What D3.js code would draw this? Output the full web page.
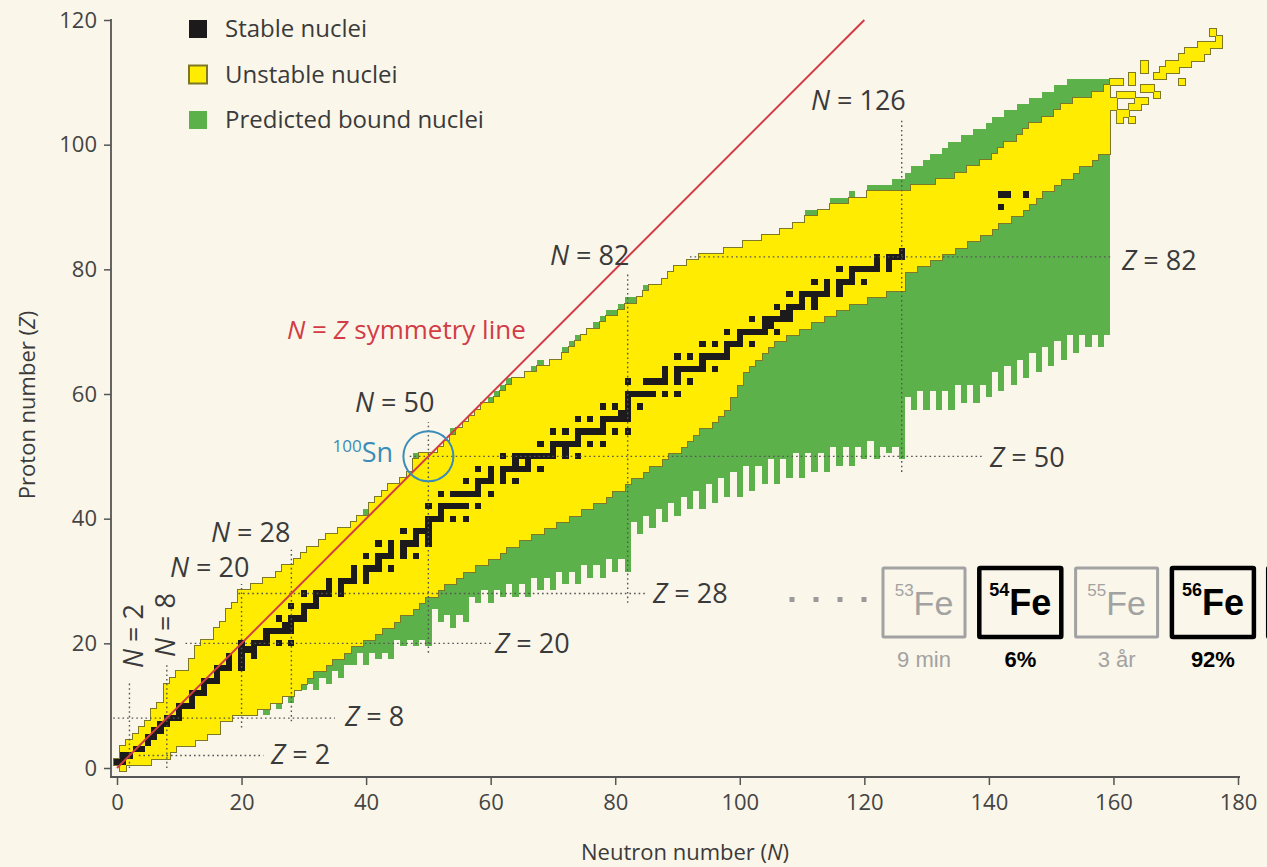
<!DOCTYPE html>
<html>
<head>
<meta charset="utf-8">
<script src="https://cdn.jsdelivr.net/npm/d3@7"></script>
<style>
  body { margin: 0; background: #faf6ea; }
  svg { display: block; font-family: "Open Sans", "Noto Sans", sans-serif; }
</style>
</head>
<body>
<svg id="chart" width="1267" height="867"></svg>
<script>
// ---- data (index of each column array = neutron number N) ----
const xTicks = [0, 20, 40, 60, 80, 100, 120, 140, 160, 180];
const yTicks = [0, 20, 40, 60, 80, 100, 120];

// known (unstable) nuclei: lowest / highest Z per N
const yellowLo = [
  1,0,1,1,1,1,2,2,2,3, 4,4,4,5,5,6,6,8,8,9,
  9,9,9,10,10,11,11,12,12,13, 14,15,16,16,17,18,18,19,20,20,
  21,21,22,23,23,24,25,25,26,27, 28,28,29,30,30,31,32,32,33,33,
  34,34,35,36,36,37,37,38,38,39, 39,40,40,41,41,42,42,43,43,44,
  45,45,46,47,47,48,49,49,50,51, 51,52,53,54,55,55,56,57,58,60,
  62,64,65,66,67,68,69,69,70,70, 71,71,72,72,73,73,74,74,75,75,
  75,76,76,76,77,77,77,80,80,81, 81,82,82,83,83,84,84,85,85,86,
  86,87,88,88,89,89,90,91,92,93, 93,94,95,95,96,97,97,98,99,99
];
const yellowHi = [
  1,3,4,5,6,7,9,10,13,14, 15,15,17,19,20,20,22,23,25,26,
  28,28,29,29,30,30,31,32,32,33, 34,35,35,36,37,37,38,38,39,40,
  40,42,43,44,45,45,46,47,49,50, 50,50,51,52,53,54,55,56,57,58,
  58,59,60,61,62,62,63,63,64,64, 65,65,66,67,68,69,70,70,71,72,
  72,73,74,74,75,76,77,77,78,79, 80,80,81,81,82,82,82,82,83,83,
  83,84,84,84,85,85,85,86,86,87, 87,88,88,89,89,90,90,90,91,91,
  91,92,92,92,92,92,92,92,93,93, 93,93,94,94,94,95,95,96,96,97,
  97,98,99,100,100,101,102,103,103,104, 104,105,106,106,107,107,107,108,108,108
];
// predicted bound nuclei: lowest / highest Z per N
const greenLo = [
  1,0,1,1,1,1,2,2,2,3, 4,4,4,5,5,6,6,8,8,9,
  9,9,9,10,9,11,10,12,11,13, 13,14,13,15,14,16,15,17,17,19,
  17,19,18,19,18,21,20,21,20,21, 20,26,24,25,23,25,24,28,27,29,
  27,29,28,30,28,30,28,31,29,31, 29,32,30,32,30,33,31,33,31,34,
  32,34,32,40,38,41,39,42,40,43, 41,44,42,45,42,46,43,47,44,48,
  44,49,45,49,46,50,46,50,47,51, 47,51,48,51,48,52,49,52,49,52,
  50,53,50,52,51,52,50,60,58,61, 58,61,58,61,58,62,59,62,59,62,
  60,64,61,65,62,66,63,67,64,68, 65,69,66,70,67,70,68,70,68,70
];
const greenHi = [
  1,3,4,5,6,7,9,10,13,14, 15,15,17,19,20,20,22,23,25,26,
  28,28,29,29,30,30,31,32,32,33, 34,35,35,36,37,37,38,38,39,40,
  41,42,43,44,45,45,46,47,50,50, 50,50,51,52,54,54,55,56,57,58,
  59,60,61,62,62,62,63,64,65,64, 65,65,67,68,69,69,70,71,72,73,
  73,74,75,75,75,77,77,77,78,79, 80,80,81,81,82,82,82,82,83,83,
  83,84,84,84,85,85,85,86,86,87, 87,89,89,89,89,91,91,91,92,91,
  91,93,93,93,93,94,94,95,96,96, 97,98,98,99,100,100,101,101,102,102,
  103,104,104,105,105,106,106,107,107,108, 108,109,109,110,110,110,110,110,110,110
];
// isolated superheavy known nuclei [N, Z]
const superheavy = [
  [161,104],[163,104],[161,105],[162,105],[160,106],[163,106],[164,106],
  [160,107],[164,107],[165,107],[161,108],[162,108],[163,108],[167,108],
  [159,109],[165,109],[166,109],[160,110],[161,110],[163,110],[171,110],
  [163,111],[167,111],[168,111],[165,112],[168,112],[169,112],[170,112],
  [165,113],[169,113],[170,113],[171,113],[172,113],
  [171,114],[172,114],[173,114],[174,114],
  [172,115],[173,115],[174,115],[175,115],
  [174,116],[175,116],[176,116],[177,116],[177,117],[176,118]
];
// stable nuclei: [Z, mass numbers]
const stableMassByZ = [
  [1,[1,2]],[2,[3,4]],[3,[6,7]],[4,[9]],[5,[10,11]],[6,[12,13]],[7,[14,15]],[8,[16,17,18]],[9,[19]],[10,[20,21,22]],
  [11,[23]],[12,[24,25,26]],[13,[27]],[14,[28,29,30]],[15,[31]],[16,[32,33,34,36]],[17,[35,37]],[18,[36,38,40]],[19,[39,40,41]],[20,[40,42,43,44,46,48]],
  [21,[45]],[22,[46,47,48,49,50]],[23,[50,51]],[24,[50,52,53,54]],[25,[55]],[26,[54,56,57,58]],[27,[59]],[28,[58,60,61,62,64]],[29,[63,65]],[30,[64,66,67,68,70]],
  [31,[69,71]],[32,[70,72,73,74,76]],[33,[75]],[34,[74,76,77,78,80,82]],[35,[79,81]],[36,[78,80,82,83,84,86]],[37,[85,87]],[38,[84,86,87,88]],[39,[89]],[40,[90,91,92,94,96]],
  [41,[93]],[42,[92,94,95,96,97,98,100]],[44,[96,98,99,100,101,102,104]],[45,[103]],[46,[102,104,105,106,108,110]],[47,[107,109]],[48,[106,108,110,111,112,113,114,116]],[49,[113,115]],[50,[112,114,115,116,117,118,119,120,122,124]],
  [51,[121,123]],[52,[120,122,123,124,125,126,128,130]],[53,[127]],[54,[124,126,128,129,130,131,132,134,136]],[55,[133]],[56,[130,132,134,135,136,137,138]],[57,[138,139]],[58,[136,138,140,142]],[59,[141]],[60,[142,143,144,145,146,148,150]],
  [62,[144,147,148,149,150,152,154]],[63,[151,153]],[64,[152,154,155,156,157,158,160]],[65,[159]],[66,[156,158,160,161,162,163,164]],[67,[165]],[68,[162,164,166,167,168,170]],[69,[169]],[70,[168,170,171,172,173,174,176]],
  [71,[175,176]],[72,[174,176,177,178,179,180]],[73,[180,181]],[74,[180,182,183,184,186]],[75,[185,187]],[76,[184,186,187,188,189,190,192]],[77,[191,193]],[78,[190,192,194,195,196,198]],[79,[197]],[80,[196,198,199,200,201,202,204]],
  [81,[203,205]],[82,[204,206,207,208]],[83,[209]],[90,[232]],[92,[234,235,238]]
];
const magicN = [2, 8, 20, 28, 50, 82, 126];
const magicZ = [2, 8, 20, 28, 50, 82];
const legendLabels = ['Stable nuclei', 'Unstable nuclei', 'Predicted bound nuclei'];
const feMass = ['53', '54', '55', '56', ''];   // last box is cut by the frame
const feNote = ['9 min', '6%', '3 år', '92%', ''];
const feStable = [false, true, false, true, true];

// ---- layout ----
const C = {
  ink: '#3a3a3a', yellow: '#ffec00', green: '#5db14b', edge: '#7c7826',
  stable: '#1c1a1a', red: '#d23c46', teal: '#3b8db8', grey: '#a2a2a2'
};
const svg = d3.select('#chart');
const x = d3.scaleLinear().domain([0, 180]).range([117, 1238]);
const y = d3.scaleLinear().domain([0, 120]).range([768, 20]);

// rounded cell geometry so neighbouring columns meet exactly
function cellRect(sel) {
  sel.attr('x', d => Math.round(x(d.n - 0.5)))
    .attr('width', d => Math.round(x(d.n + 0.5)) - Math.round(x(d.n - 0.5)))
    .attr('y', d => Math.round(y(d.hi + 0.5)))
    .attr('height', d => Math.round(y(d.lo - 0.5)) - Math.round(y(d.hi + 0.5)));
}

const cols = d3.range(yellowLo.length);
const greenCols = cols.map(n => ({n, lo: greenLo[n], hi: greenHi[n]}));
const yellowCells = cols.map(n => ({n, lo: yellowLo[n], hi: yellowHi[n]}))
  .concat(superheavy.map(([n, z]) => ({n, lo: z, hi: z})));
const stableCells = [];
stableMassByZ.forEach(([z, masses]) => masses.forEach(a => stableCells.push({n: a - z, lo: z, hi: z})));

svg.append('g').attr('shape-rendering', 'crispEdges')
  .selectAll('rect').data(greenCols).join('rect').call(cellRect).attr('fill', C.green);
// outline of the known region, then the fill on top of it
svg.append('g').attr('shape-rendering', 'crispEdges')
  .selectAll('rect').data(yellowCells).join('rect').call(cellRect)
  .attr('fill', 'none').attr('stroke', C.edge).attr('stroke-width', 2);
svg.append('g').attr('shape-rendering', 'crispEdges')
  .selectAll('rect').data(yellowCells).join('rect').call(cellRect).attr('fill', C.yellow);
svg.append('g').attr('shape-rendering', 'crispEdges')
  .selectAll('rect').data(stableCells).join('rect').call(cellRect).attr('fill', C.stable);

// magic number guide lines (extent in N / Z units)
const nExtent = {2: [0, 14], 8: [0, 16.5], 20: [6.5, 29.5], 28: [7.5, 35], 50: [18.5, 55.5], 82: [26.5, 79.5], 126: [47.5, 104]};
const zExtent = {2: [3.5, 23.5], 8: [-0.6, 35], 20: [11, 60], 28: [19.5, 85], 50: [47, 139], 82: [92, 159.5]};
const guides = svg.append('g').attr('stroke', '#555').attr('stroke-width', 1.4).attr('stroke-dasharray', '1.6,3');
magicN.forEach(n => guides.append('line')
  .attr('x1', x(n)).attr('x2', x(n)).attr('y1', y(nExtent[n][0])).attr('y2', y(nExtent[n][1])));
magicZ.forEach(z => guides.append('line')
  .attr('y1', y(z)).attr('y2', y(z)).attr('x1', x(zExtent[z][0])).attr('x2', x(zExtent[z][1])));

// N = Z line
svg.append('line').attr('x1', x(0)).attr('y1', y(0)).attr('x2', x(120)).attr('y2', y(120))
  .attr('stroke', C.red).attr('stroke-width', 2);

// 100Sn circle
svg.append('circle').attr('cx', x(50)).attr('cy', y(50)).attr('r', 25)
  .attr('fill', 'none').attr('stroke', C.teal).attr('stroke-width', 2);
const sn = svg.append('text').attr('x', 393).attr('y', 462).attr('text-anchor', 'end')
  .attr('fill', C.teal).attr('font-size', 27);
sn.append('tspan').attr('font-size', 17).attr('dy', -10).text('100');
sn.append('tspan').attr('dy', 10).text('Sn');

// magic labels
function magicLabel(letter, val, px, py, rot) {
  const t = svg.append('text').attr('fill', C.ink).attr('font-size', 27);
  if (rot) t.attr('transform', `translate(${px},${py}) rotate(-90)`).attr('text-anchor', 'middle');
  else t.attr('x', px).attr('y', py);
  t.append('tspan').attr('font-style', 'italic').text(letter);
  t.append('tspan').text(' = ' + val);
}
const nLabelPos = {2: [143, 636, true], 8: [175, 625, true], 20: [170, 577], 28: [211, 542], 50: [355, 412], 82: [550, 265], 126: [811, 110]};
const zLabelPos = {2: [271, 764], 8: [345, 726], 20: [495, 653], 28: [653, 603], 50: [990, 467], 82: [1122, 270]};
magicN.forEach(n => magicLabel('N', n, ...nLabelPos[n]));
magicZ.forEach(z => magicLabel('Z', z, ...zLabelPos[z]));

const sym = svg.append('text').attr('x', 287).attr('y', 339).attr('fill', C.red).attr('font-size', 26);
sym.append('tspan').attr('font-style', 'italic').text('N');
sym.append('tspan').text(' = ');
sym.append('tspan').attr('font-style', 'italic').text('Z');
sym.append('tspan').text(' symmetry line');

// axes
const gx = svg.append('g').attr('transform', 'translate(0,777)')
  .call(d3.axisBottom(x).tickValues(xTicks).tickSize(8).tickPadding(9).tickSizeOuter(0));
const gy = svg.append('g').attr('transform', 'translate(111,0)')
  .call(d3.axisLeft(y).tickValues(yTicks).tickSize(7).tickPadding(7).tickSizeOuter(0));
[gx, gy].forEach(g => {
  g.select('.domain').remove();
  g.selectAll('.tick line').attr('stroke', '#555').attr('stroke-width', 1.5);
  g.selectAll('.tick text').attr('fill', '#444').attr('font-size', 22)
    .attr('font-family', '"Open Sans", sans-serif');
});
svg.append('line').attr('x1', 110).attr('x2', 1240).attr('y1', 777).attr('y2', 777)
  .attr('stroke', '#555').attr('stroke-width', 1.8);
svg.append('line').attr('x1', 111).attr('x2', 111).attr('y1', 19).attr('y2', 777)
  .attr('stroke', '#555').attr('stroke-width', 1.8);

const xt = svg.append('text').attr('x', 685).attr('y', 860).attr('text-anchor', 'middle')
  .attr('fill', C.ink).attr('font-size', 22);
xt.append('tspan').text('Neutron number (');
xt.append('tspan').attr('font-style', 'italic').text('N');
xt.append('tspan').text(')');
const yt = svg.append('text').attr('transform', 'translate(35,405) rotate(-90)').attr('text-anchor', 'middle')
  .attr('fill', C.ink).attr('font-size', 22);
yt.append('tspan').text('Proton number (');
yt.append('tspan').attr('font-style', 'italic').text('Z');
yt.append('tspan').text(')');

// legend
const legFill = [C.stable, C.yellow, C.green];
const leg = svg.append('g');
legendLabels.forEach((lab, i) => {
  const top = 20 + i * 45.5;
  leg.append('rect').attr('x', 189).attr('y', top).attr('width', 18).attr('height', 18)
    .attr('fill', legFill[i]).attr('stroke', i == 1 ? C.edge : 'none').attr('stroke-width', 2);
  leg.append('text').attr('x', 225).attr('y', top + 17).attr('fill', C.ink).attr('font-size', 24).text(lab);
});

// iron isotope strip
const fe = svg.append('g').attr('font-family', '"Liberation Sans", Arial, sans-serif');
[792, 816, 840, 864].forEach(cx => fe.append('rect').attr('x', cx - 2.5).attr('y', 597).attr('width', 5).attr('height', 5).attr('fill', '#9a9a9a'));
feMass.forEach((m, i) => {
  const left = 883 + i * 96.3, st = feStable[i];
  const col = st ? '#000' : C.grey;
  fe.append('rect').attr('x', left).attr('y', 568).attr('width', 82).attr('height', 69)
    .attr('fill', 'none').attr('stroke', col).attr('stroke-width', st ? 4.5 : 3).attr('rx', 1);
  if (!m) return;
  const t = fe.append('text').attr('x', left + 41).attr('y', 615).attr('text-anchor', 'middle')
    .attr('fill', col).attr('font-weight', st ? 'bold' : 'normal');
  t.append('tspan').attr('font-size', st ? 18 : 17).attr('dy', -19).text(m);
  t.append('tspan').attr('font-size', st ? 36 : 34).attr('dy', 19).text('Fe');
  fe.append('text').attr('x', left + 41).attr('y', 667).attr('text-anchor', 'middle')
    .attr('fill', col).attr('font-size', 22).attr('font-weight', st ? 'bold' : 'normal').text(feNote[i]);
});
</script>
</body>
</html>
